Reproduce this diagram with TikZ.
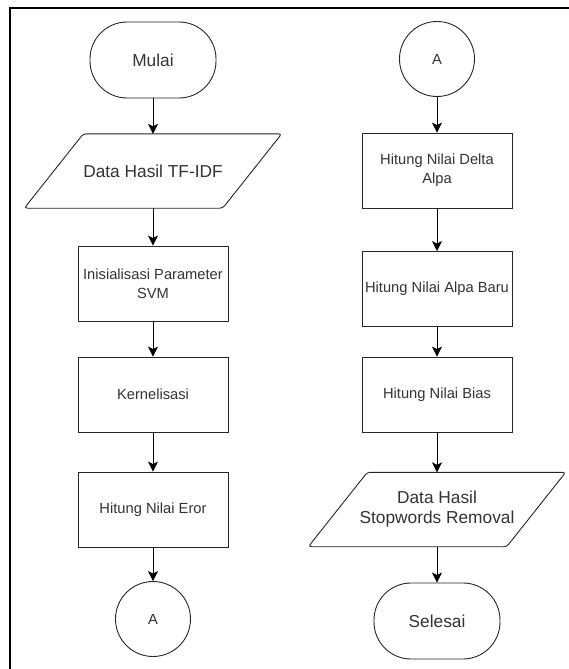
\documentclass[tikz,border=0pt]{standalone}
\usepackage{fontspec}
\setmainfont{Liberation Sans}
\usetikzlibrary{arrows.meta}
\begin{document}
\begin{tikzpicture}[x=1pt, y=-1pt,
  terminal/.style={rectangle, rounded corners=37pt, draw=black!85, line width=0.9pt, minimum width=126pt, minimum height=76pt, font=\fontsize{17.3}{20}\selectfont, text=black!80},
  io/.style={rectangle, minimum width=198pt, minimum height=74pt, align=center, inner sep=1pt, font=\fontsize{17.3}{20}\selectfont, text=black!80},
  outline/.style={draw=black!85, line width=0.9pt, rounded corners=3pt},
  process/.style={rectangle, draw=black!85, line width=0.9pt, minimum width=150pt, minimum height=75pt, align=center, inner sep=1pt, font=\fontsize{14.7}{19}\selectfont, text=black!80},
  connector/.style={circle, draw=black!85, line width=0.9pt, minimum size=75pt, font=\fontsize{14.7}{18}\selectfont, text=black!80},
  arr/.style={draw=black, line width=0.9pt, -{Stealth[length=10pt, width=10pt, inset=2.5pt]}}]
\useasboundingbox (0,0) rectangle (569,669);
% frame
\draw[line width=2pt] (9.5,669) -- (9.5,8) -- (569,8);
% left column
\node [terminal] (mulai) at (153,60) {Mulai};
\node [io] (tfidf) at (153,171) {Data Hasil TF-IDF};
\node [process] (param) at (153,283.5) {Inisialisasi Parameter\\SVM};
\node [process] (kernel) at (153,394.5) {Kernelisasi};
\node [process] (eror) at (153,509.5) {Hitung Nilai Eror};
\node [connector] (a1) at (153,619) {A};
% right column
\node [connector] (a2) at (437,59) {A};
\node [process] (delta) at (437,170.5) {Hitung Nilai Delta\\Alpa};
\node [process] (baru) at (437,289) {Hitung Nilai Alpa Baru};
\node [process] (bias) at (437,394.5) {Hitung Nilai Bias};
\node [io] (stopw) at (437,509.5) {Data Hasil\\Stopwords Removal};
\node [terminal] (selesai) at (437,621) {Selesai};
% slanted data shapes
\foreach \n in {tfidf,stopw}
  \draw [outline] ([xshift=-29.5pt]\n.south west) -- ([xshift=29.5pt]\n.north west)
    -- ([xshift=29.5pt]\n.north east) -- ([xshift=-29.5pt]\n.south east) -- cycle;
% arrows
\draw [arr] (mulai) -- (tfidf);
\draw [arr] (tfidf) -- (param);
\draw [arr] (param) -- (kernel);
\draw [arr] (kernel) -- (eror);
\draw [arr] (eror) -- (a1);
\draw [arr] (a2) -- (delta);
\draw [arr] (delta) -- (baru);
\draw [arr] (baru) -- (bias);
\draw [arr] (bias) -- (stopw);
\draw [arr] (stopw) -- (selesai);
\end{tikzpicture}
\end{document}
